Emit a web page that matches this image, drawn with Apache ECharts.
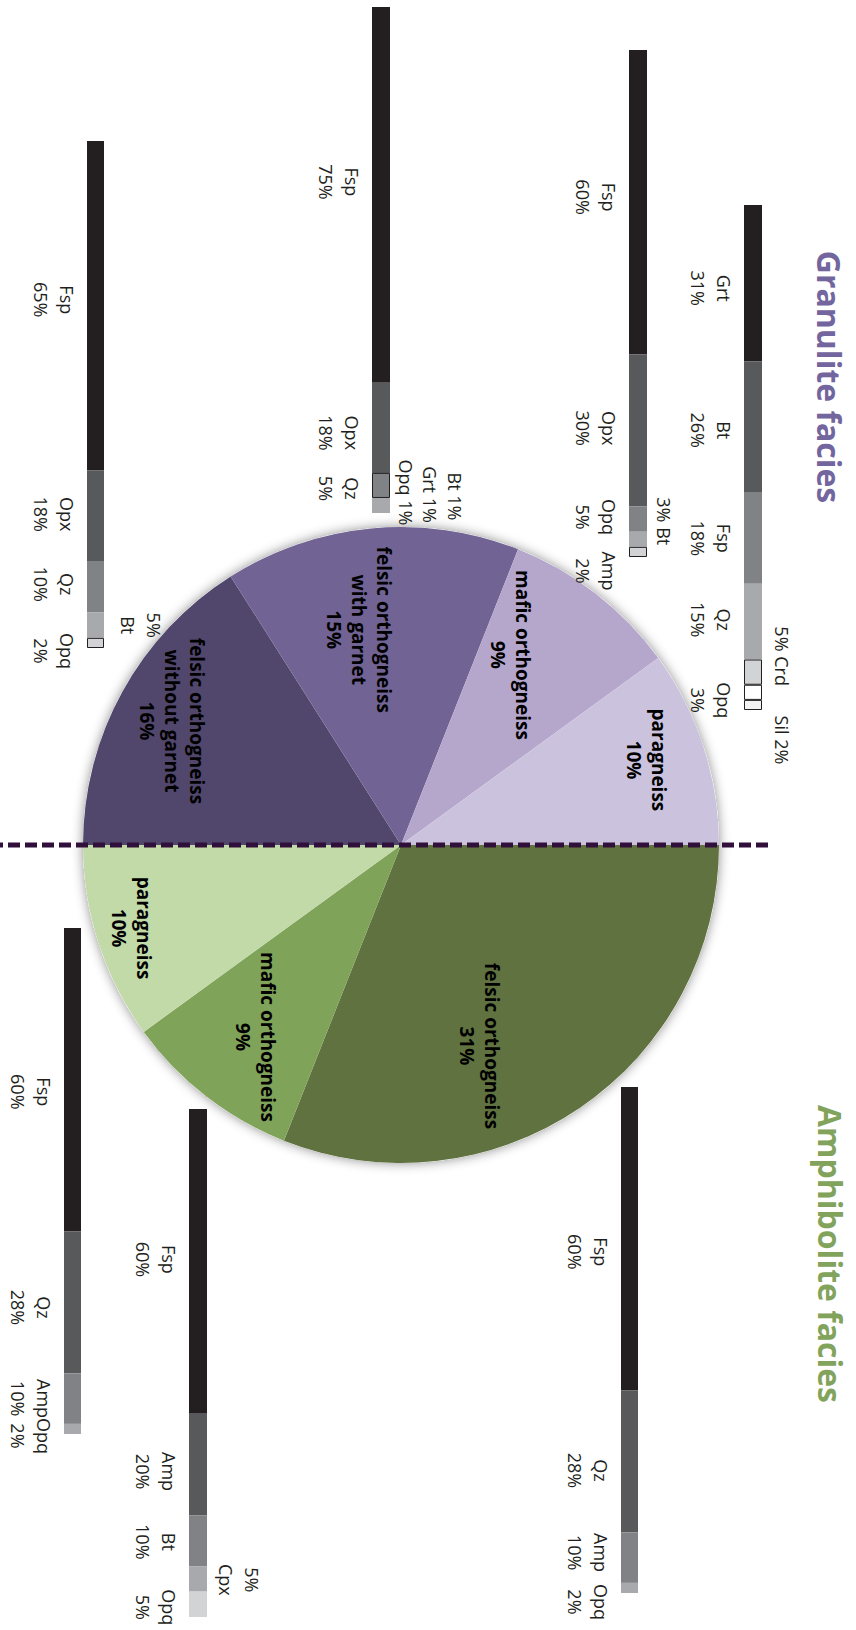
<!DOCTYPE html>
<html>
<head>
<meta charset="utf-8">
<script src="https://cdn.jsdelivr.net/npm/echarts@6/dist/echarts.min.js"></script>
<style>
html,body{margin:0;padding:0;background:#fff;}
body{width:856px;height:1630px;overflow:hidden;position:relative;}
#wrap{position:absolute;left:0;top:0;width:1630px;height:856px;transform-origin:0 0;transform:translate(856px,0) rotate(90deg);}
</style>
</head>
<body>
<div id="wrap"></div>
<script>
// ---------------- DATA ----------------
// Pie (clockwise from the top of the unrotated chart)
const pieNames = ['felsic orthogneiss', 'mafic orthogneiss', 'paragneiss',
  'felsic orthogneiss\nwithout garnet', 'felsic orthogneiss\nwith garnet', 'mafic orthogneiss', 'paragneiss'];
const pieValues = [31, 9, 10, 16, 15, 9, 10];

// Mineral bars
const granParaMinerals = ['Grt', 'Bt', 'Fsp', 'Qz', 'Crd', 'Opq', 'Sil'];
const granParaValues = [31, 26, 18, 15, 5, 3, 2];
const granMaficMinerals = ['Fsp', 'Opx', 'Opq', 'Bt', 'Amp'];
const granMaficValues = [60, 30, 5, 3, 2];
const granFelsicGrtMinerals = ['Fsp', 'Opx', 'Qz', 'Bt', 'Grt', 'Opq'];
const granFelsicGrtValues = [75, 18, 5, 1, 1, 1];
const granFelsicMinerals = ['Fsp', 'Opx', 'Qz', 'Bt', 'Opq'];
const granFelsicValues = [65, 18, 10, 5, 2];
const amphFelsicMinerals = ['Fsp', 'Qz', 'Amp', 'Opq'];
const amphFelsicValues = [60, 28, 10, 2];
const amphMaficMinerals = ['Fsp', 'Amp', 'Bt', 'Cpx', 'Opq'];
const amphMaficValues = [60, 20, 10, 5, 5];
const amphParaMinerals = ['Fsp', 'Qz', 'Amp', 'Opq'];
const amphParaValues = [60, 28, 10, 2];

const titles = ['Granulite facies', 'Amphibolite facies'];

// ---------------- LAYOUT / STYLE ----------------
const pieColors = ['#5f723f', '#80a35a', '#c2d9a8', '#51466b', '#716394', '#b5a7cc', '#cbc3de'];
const pieLabelShift = [[67, 13], [64, 46], [33, 115], [-46, 87], [-54, 27], [-62, -10], [-35, -91]];
const pieCenter = [845, 455], pieRadius = 318;

const grays = ['#231f20', '#58595b', '#808285', '#a7a9ac', '#d1d3d4'];
const bars = [
  { minerals: granParaMinerals, values: granParaValues, box: {left: 205, top: 94, width: 505, height: 18},
    colors: ['#231f20', '#58595b', '#808285', '#a7a9ac', '#d1d3d4', '#ffffff', '#f1f2f2'],
    outline: [0, 0, 0, 0, 1, 1, 1],
    labels: [{dx: 5}, {dx: 3}, {}, {dx: -2}, {pos: 'top', fmt: 'pctName', dx: -16, d: 7}, {dx: 8}, {pos: 'top', fmt: 'namePct', dx: 35, d: 7}] },
  { minerals: granMaficMinerals, values: granMaficValues, box: {left: 50, top: 209, width: 507, height: 18},
    colors: grays, outline: [0, 0, 0, 0, 1],
    labels: [{dx: -5}, {dx: -2}, {dx: -2}, {pos: 'top', fmt: 'pctName', dx: -18, d: 4}, {dx: 19}] },
  { minerals: granFelsicGrtMinerals, values: granFelsicGrtValues, box: {left: 7, top: 466, width: 506, height: 18},
    colors: ['#231f20', '#58595b', '#808285', '#a7a9ac', '#a7a9ac', '#a7a9ac'], outline: [0, 0, 1, 0, 0, 0],
    labels: [{dx: -13}, {dx: 5}, {dx: 3}, {pos: 'top', fmt: 'namePct', dx: -4, d: 52}, {pos: 'top', fmt: 'namePct', dx: -11, d: 27}, {pos: 'top', fmt: 'namePct', dx: -18, d: 3}] },
  { minerals: granFelsicMinerals, values: granFelsicValues, box: {left: 141, top: 752, width: 507, height: 17},
    colors: grays, outline: [0, 0, 0, 0, 1],
    labels: [{dx: -6}, {dx: -2}, {dx: -3}, {pos: 'top', fmt: 'pctNameStack', dx: 0, d: 11}, {dx: 8}] },
  { minerals: amphFelsicMinerals, values: amphFelsicValues, box: {left: 1087, top: 218, width: 506, height: 17},
    colors: grays, outline: [0, 0, 0, 0],
    labels: [{dx: 13}, {dx: 9}, {dx: -5}, {dx: 14}] },
  { minerals: amphMaficMinerals, values: amphMaficValues, box: {left: 1109, top: 649, width: 508, height: 18},
    colors: grays, outline: [0, 0, 0, 0, 0],
    labels: [{dx: -2}, {dx: 7}, {dx: 1}, {pos: 'top', fmt: 'pctNameStack', dx: 1, d: 6}, {dx: 3}] },
  { minerals: amphParaMinerals, values: amphParaValues, box: {left: 928, top: 775, width: 506, height: 17},
    colors: grays, outline: [0, 0, 0, 0],
    labels: [{dx: 12}, {dx: 5}, {}, {dx: 7}] }
];

const textFont = 'Open Sans';
const inkColor = '#231f20';

// ---------------- BUILD ----------------
const chart = echarts.init(document.getElementById('wrap'), null, {renderer: 'svg', width: 1630, height: 856});

const grid = [], xAxis = [], yAxis = [], series = [];
bars.forEach(function (b, i) {
  const total = b.values.reduce(function (a, c) { return a + c; }, 0);
  grid.push({left: b.box.left, top: b.box.top, width: b.box.width, height: b.box.height, containLabel: false});
  xAxis.push({type: 'value', gridIndex: i, min: 0, max: total, show: false});
  yAxis.push({type: 'category', gridIndex: i, data: ['bar'], show: false});
  b.minerals.forEach(function (m, j) {
    const spec = b.labels[j] || {};
    const pos = spec.pos || 'bottom';
    const fmt = spec.fmt || 'stack';
    const v = b.values[j];
    let txt;
    if (fmt === 'stack') txt = m + '\n' + v + '%';
    else if (fmt === 'pctName') txt = v + '% ' + m;
    else if (fmt === 'namePct') txt = m + ' ' + v + '%';
    else txt = v + '%\n' + m;
    series.push({
      type: 'bar', name: m, xAxisIndex: i, yAxisIndex: i, stack: 'bar' + i,
      barWidth: '100%', silent: true, animation: false,
      data: [v],
      itemStyle: {
        color: b.colors[j],
        borderColor: b.outline[j] ? '#231f20' : b.colors[j],
        borderWidth: b.outline[j] ? 1 : 0
      },
      label: {
        show: true, position: pos, distance: spec.d !== undefined ? spec.d : 7,
        offset: [spec.dx || 0, 0],
        formatter: txt, align: 'center',
        fontFamily: textFont, fontSize: 18, lineHeight: 26, color: inkColor
      }
    });
  });
});

// soft shadow disc behind the pie
series.push({
  type: 'pie', center: pieCenter, radius: pieRadius, silent: true, animation: false,
  data: [{name: 'total', value: pieValues.reduce(function (a, c) { return a + c; }, 0)}],
  itemStyle: {color: '#ffffff', shadowBlur: 12, shadowColor: 'rgba(0,0,0,0.45)'},
  label: {show: false}, labelLine: {show: false}, z: 1
});

series.push({
  type: 'pie', center: pieCenter, radius: pieRadius, startAngle: 90, clockwise: true,
  silent: true, animation: false,
  data: pieNames.map(function (n, k) { return {name: n, value: pieValues[k], itemStyle: {color: pieColors[k]}}; }),
  itemStyle: {borderWidth: 0},
  label: {
    show: true, position: 'inside', formatter: '{b}\n{c}%',
    fontFamily: textFont, fontWeight: 'bold', fontSize: 19, lineHeight: 25, color: '#000', align: 'center'
  },
  labelLine: {show: false},
  labelLayout: function (p) {
    const s = pieLabelShift[p.dataIndex];
    return {dx: s[0], dy: s[1]};
  },
  z: 2
});

chart.setOption({
  backgroundColor: '#ffffff',
  animation: false,
  grid: grid, xAxis: xAxis, yAxis: yAxis,
  series: series,
  graphic: [
    {type: 'text', x: 377, y: 27, z: 10, style: {text: titles[0], fill: '#73659d', font: 'bold 32px "Open Sans"', textAlign: 'center', textVerticalAlign: 'middle'}},
    {type: 'text', x: 1254, y: 26, z: 10, style: {text: titles[1], fill: '#82a35c', font: 'bold 32px "Open Sans"', textAlign: 'center', textVerticalAlign: 'middle'}},
    {type: 'line', z: 20, shape: {x1: pieCenter[0], y1: 88, x2: pieCenter[0], y2: 856},
     style: {stroke: '#30103a', lineWidth: 5, lineDash: [12, 5]}}
  ]
});
</script>
</body>
</html>
